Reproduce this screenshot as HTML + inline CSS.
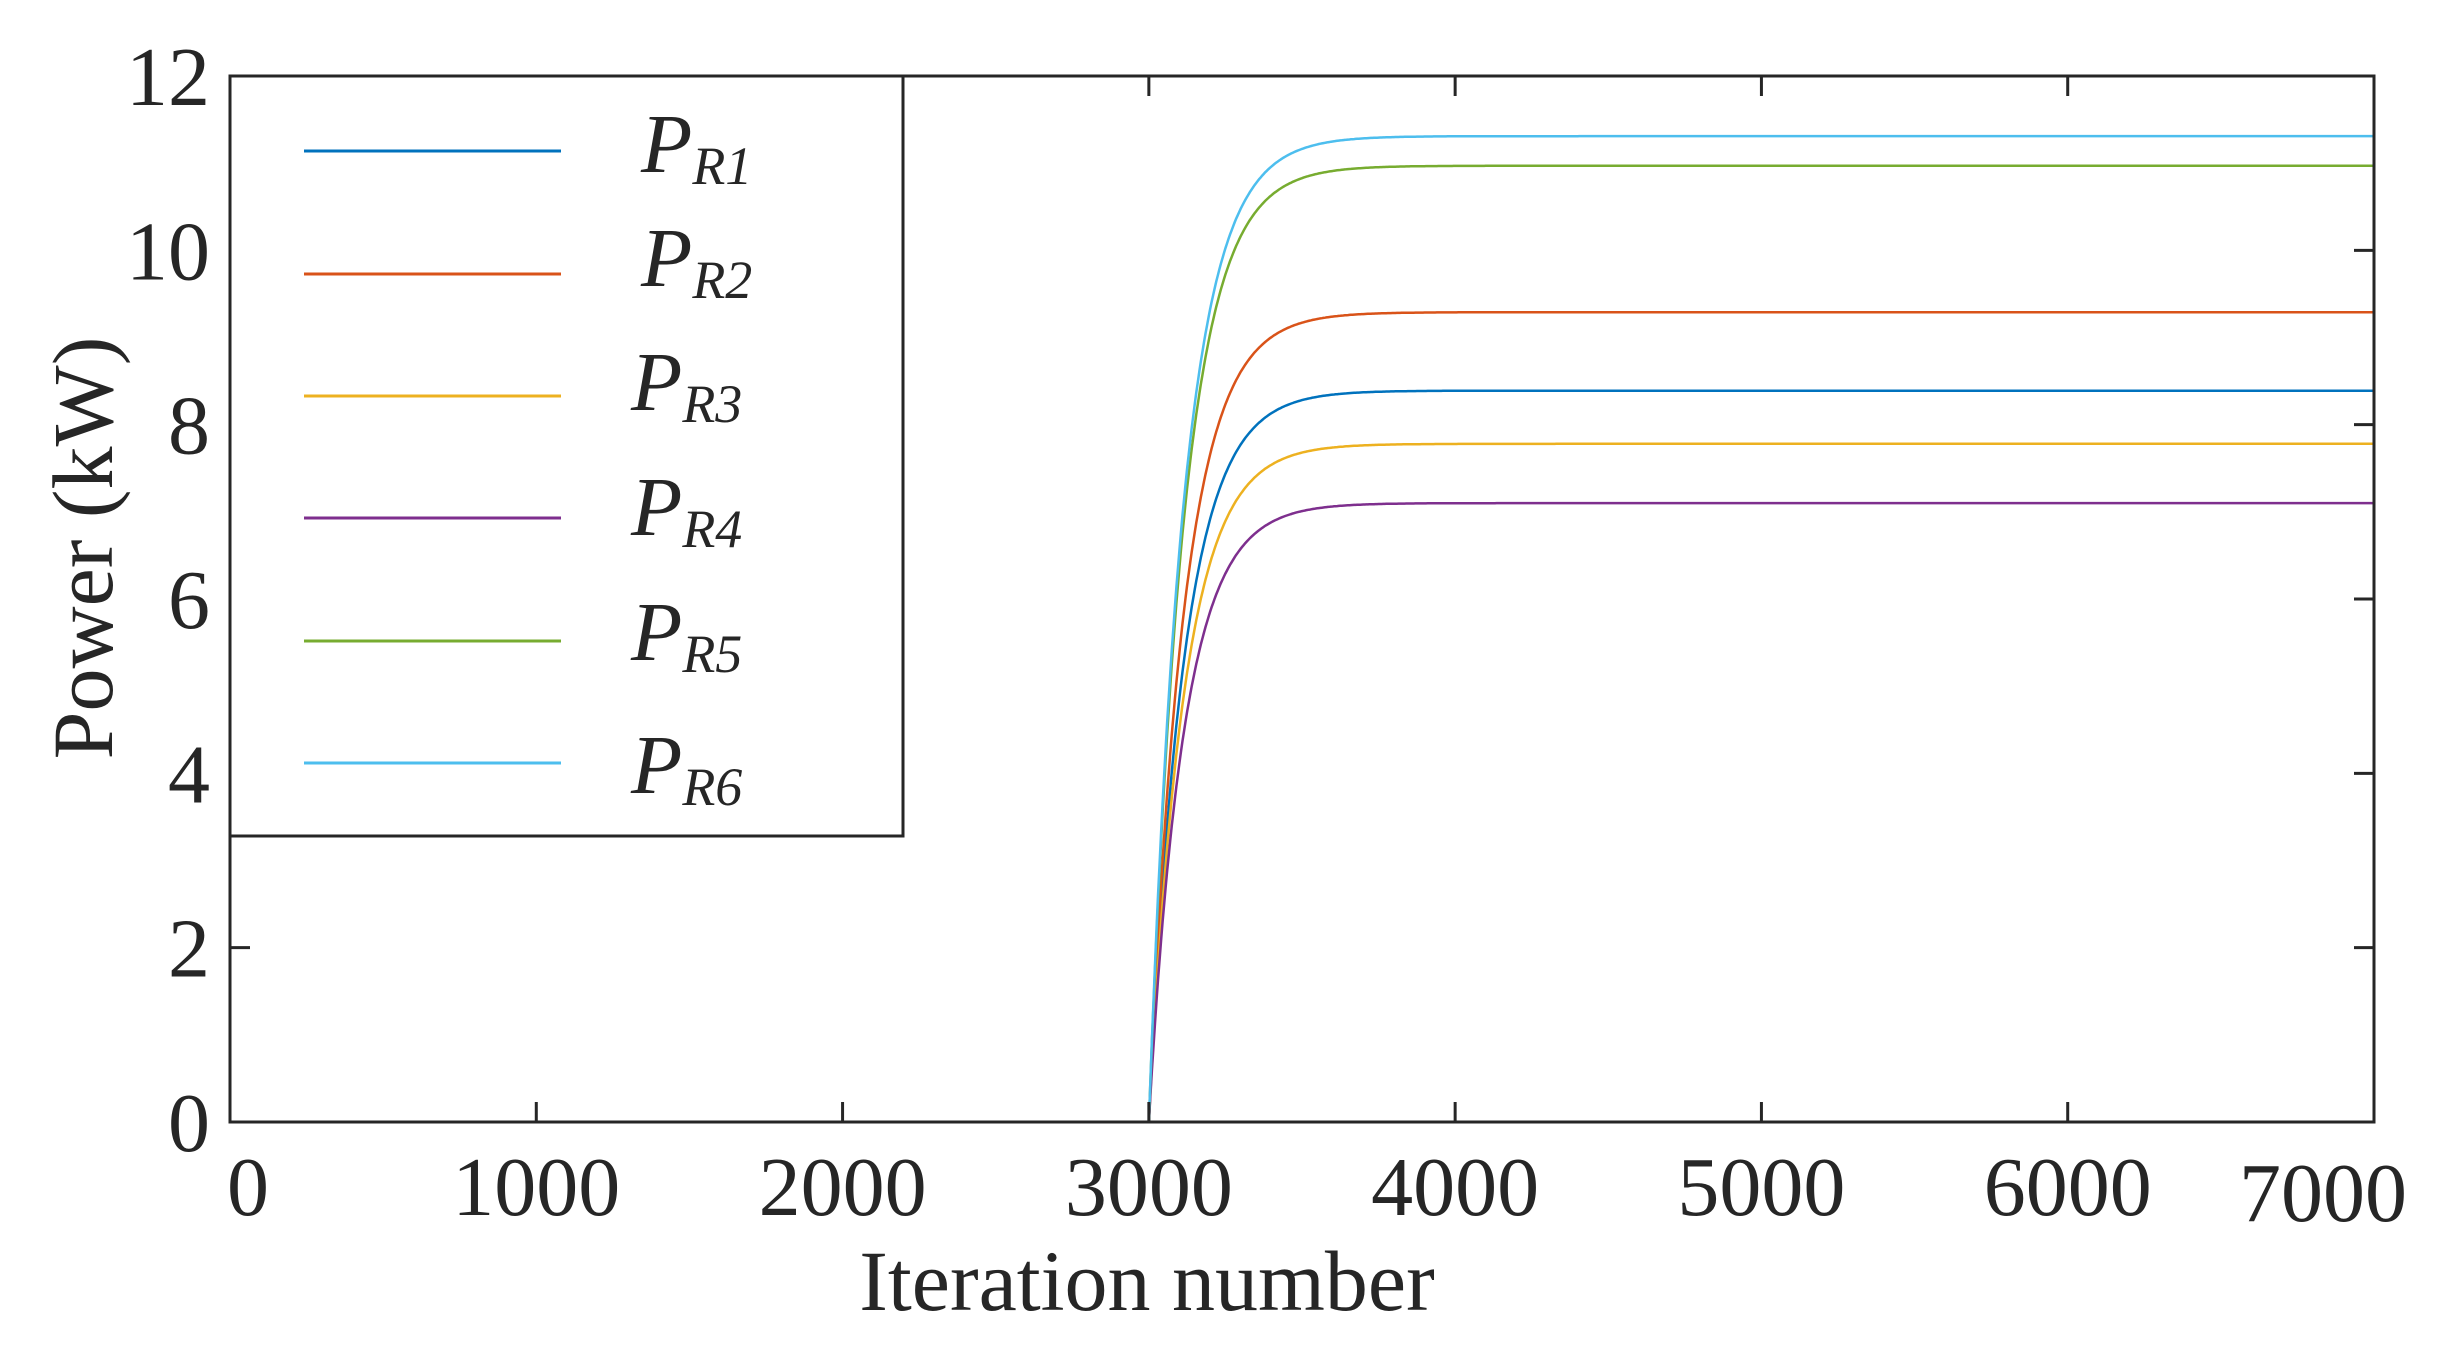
<!DOCTYPE html>
<html><head><meta charset="utf-8"><style>
html,body{margin:0;padding:0;background:#fff;}
svg{display:block;}
text{font-family:"Liberation Serif",serif;fill:#262626;}
</style></head><body>
<svg id="s" width="2440" height="1358" viewBox="0 0 2440 1358" xmlns="http://www.w3.org/2000/svg">
<g id="curves" fill="none" stroke-width="2.5"></g>
<g id="axes" stroke="#262626" stroke-width="3" fill="none"></g>
<rect x="230" y="76" width="673" height="760" fill="#fff" stroke="#262626" stroke-width="3"/>
<g stroke-width="3">
<line x1="304" y1="151" x2="561" y2="151" stroke="#0072BD"/>
<line x1="304" y1="274" x2="561" y2="274" stroke="#D95319"/>
<line x1="304" y1="396" x2="561" y2="396" stroke="#EDB120"/>
<line x1="304" y1="518" x2="561" y2="518" stroke="#7E2F8E"/>
<line x1="304" y1="641" x2="561" y2="641" stroke="#77AC30"/>
<line x1="304" y1="763" x2="561" y2="763" stroke="#4DBEEE"/>
</g>
<g font-style="italic" font-size="84">
<text x="641" y="172">P<tspan font-size="54" dy="12">R1</tspan></text>
<text x="641" y="286">P<tspan font-size="54" dy="12">R2</tspan></text>
<text x="631" y="410">P<tspan font-size="54" dy="12">R3</tspan></text>
<text x="631" y="535">P<tspan font-size="54" dy="12">R4</tspan></text>
<text x="631" y="660">P<tspan font-size="54" dy="12">R5</tspan></text>
<text x="631" y="793">P<tspan font-size="54" dy="12">R6</tspan></text>
</g>
<g font-size="84" text-anchor="end" id="ylab"></g>
<g font-size="84" text-anchor="middle" id="xlab"></g>
<text font-size="86" text-anchor="middle" transform="translate(112,548) rotate(-90)">Power (kW)</text>
<text font-size="86" text-anchor="middle" x="1147" y="1310">Iteration number</text>
</svg>
<script>
var L=230,R=2374,T=76,B=1122;
function X(v){return L+(R-L)*v/7000;}
function Y(v){return B-(B-T)*v/12;}
var ns="http://www.w3.org/2000/svg";
function el(p,t,a,txt){var e=document.createElementNS(ns,t);for(var k in a)e.setAttribute(k,a[k]);if(txt)e.textContent=txt;document.getElementById(p).appendChild(e);return e;}
var fin=[[8.39,"#0072BD"],[9.29,"#D95319"],[7.78,"#EDB120"],[7.10,"#7E2F8E"],[10.97,"#77AC30"],[11.31,"#4DBEEE"]];
fin.forEach(function(f){
 var d="M"+X(0)+","+Y(0)+" L"+X(3000)+","+Y(0);
 for(var i=3000;i<=7000;i+=5){var t=i-3000;var v=f[0]*(1-Math.exp(-t/115));d+=" L"+X(i).toFixed(1)+","+Y(v).toFixed(1);}
 el("curves","path",{d:d,stroke:f[1]});
});
el("axes","rect",{x:L,y:T,width:R-L,height:B-T});
for(var i=0;i<=7;i++){var x=X(i*1000);el("axes","line",{x1:x,y1:B,x2:x,y2:B-20});el("axes","line",{x1:x,y1:T,x2:x,y2:T+20});
 el("xlab","text",{x:(i==7?2323:x+(i==0?18:0)),y:(i==7?1221:1215)},String(i*1000));}
for(var j=0;j<=12;j+=2){var y=Y(j);el("axes","line",{x1:L,y1:y,x2:L+20,y2:y});el("axes","line",{x1:R,y1:y,x2:R-20,y2:y});
 el("ylab","text",{x:210,y:y+29},String(j));}
</script>
</body></html>
